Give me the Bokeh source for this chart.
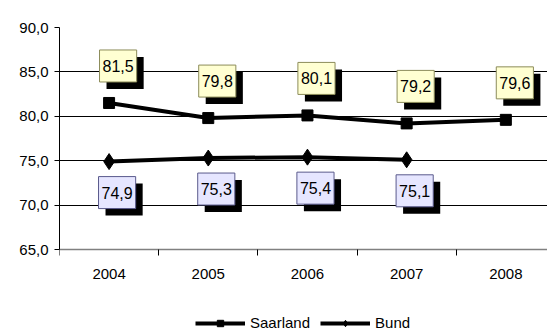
from bokeh.plotting import figure
from bokeh.models import (Range1d, FixedTicker, CustomJSTickFormatter, Legend, LegendItem,
                          ColumnDataSource, LinearAxis, Grid)
from bokeh.core.properties import value
from bokeh.embed import file_html
from bokeh.resources import INLINE

years = ["2004", "2005", "2006", "2007", "2008"]
saarland = [81.5, 79.8, 80.1, 79.2, 79.6]
bund = [74.9, 75.3, 75.4, 75.1]
y_ticks = [65, 70, 75, 80, 85, 90]

FONT = "Liberation Sans"

def fmt(v):
    return f"{v:.1f}".replace(".", ",")

# layout: value axis 65..90 spans 222 px; frame extended below so the legend sits inside it
W, H = 547, 331
TOP, LEFT = 27, 59
AXIS_PX = 222
px_per_unit = AXIS_PX / (y_ticks[-1] - y_ticks[0])
frame_h = H - TOP
y_lo = y_ticks[-1] - frame_h / px_per_unit

xs_s = [i + 0.5 for i in range(len(saarland))]
xs_b = [i + 0.5 for i in range(len(bund))]
src_s = ColumnDataSource(dict(x=xs_s, y=saarland, t=[fmt(v) for v in saarland]))
src_b = ColumnDataSource(dict(x=xs_b, y=bund, t=[fmt(v) for v in bund]))

p = figure(width=W, height=H, output_backend="svg", toolbar_location=None,
           x_range=Range1d(0, 4.92), y_range=Range1d(y_lo, y_ticks[-1]),
           min_border_left=LEFT, min_border_top=TOP, min_border_right=0, min_border_bottom=0,
           x_axis_type=None, y_axis_type=None)
p.outline_line_color = None
p.background_fill_color = "white"
p.border_fill_color = "white"

# y axis
yax = LinearAxis(ticker=FixedTicker(ticks=y_ticks), bounds=(y_ticks[0], y_ticks[-1]))
yax.formatter = CustomJSTickFormatter(code="return tick.toFixed(1).replace('.', ',');")
yax.major_tick_out = 5
yax.major_tick_in = 0
yax.minor_tick_out = 0
yax.minor_tick_in = 0
yax.axis_line_color = "black"
yax.major_tick_line_color = "black"
yax.major_label_text_font = FONT
yax.major_label_text_font_size = "15px"
yax.major_label_text_color = "black"
yax.major_label_standoff = 6
p.add_layout(yax, "left")

# x axis fixed at the bottom of the value scale
xax = LinearAxis(ticker=FixedTicker(ticks=xs_s, minor_ticks=list(range(len(years)))),
                 fixed_location=y_ticks[0])
xax.formatter = CustomJSTickFormatter(args=dict(years=years),
                                      code="return years[Math.floor(tick)];")
xax.major_tick_out = 0
xax.major_tick_in = 0
xax.minor_tick_out = 6
xax.minor_tick_in = 0
xax.minor_tick_line_color = "black"
xax.axis_line_color = "#808080"
xax.axis_line_width = 1.5
xax.major_label_text_font = FONT
xax.major_label_text_font_size = "15px"
xax.major_label_text_color = "black"
xax.major_label_standoff = 13
p.add_layout(xax, "below")

p.grid.visible = False
p.add_layout(Grid(dimension=1, ticker=FixedTicker(ticks=y_ticks[1:]), grid_line_color="black"))

# lines
ls = p.line("x", "y", source=src_s, line_color="black", line_width=4)
ms = p.scatter("x", "y", source=src_s, marker="square", size=11, fill_color="black", line_color="black")
lb = p.line("x", "y", source=src_b, line_color="black", line_width=4)
mb = p.scatter("x", "y", source=src_b, marker="diamond", size=16, fill_color="black", line_color="black")

pad = dict(left=3, right=3, top=10, bottom=10)
# shadows
for src, dx, dy in ((src_s, 9, -37), (src_b, 8, 31)):
    p.text("x", "y", text="t", source=src, x_offset=dx + 7, y_offset=dy + 7,
           text_align="center", text_baseline="middle", text_font=value(FONT),
           text_font_size="16px", text_alpha=0, background_fill_color="black",
           padding=pad)
# boxes
p.text("x", "y", text="t", source=src_s, x_offset=9, y_offset=-37,
       text_align="center", text_baseline="middle", text_font=value(FONT),
       text_font_size="16px", text_color="black", background_fill_color="#FFFFD2",
       border_line_color="#8C8C5A", border_line_width=1, padding=pad)
p.text("x", "y", text="t", source=src_b, x_offset=8, y_offset=31,
       text_align="center", text_baseline="middle", text_font=value(FONT),
       text_font_size="16px", text_color="black", background_fill_color="#E6E6FF",
       border_line_color="#5A5A8C", border_line_width=1, padding=pad)

legend = Legend(items=[LegendItem(label="Saarland", renderers=[ls, ms]),
                       LegendItem(label="Bund", renderers=[lb, mb])],
                location=(136, 0), orientation="horizontal",
                glyph_width=50, glyph_height=16, label_height=16, label_standoff=5,
                spacing=10, padding=0, margin=0,
                border_line_color=None, background_fill_alpha=0,
                label_text_font=FONT, label_text_font_size="15px", label_text_color="black")
p.add_layout(legend, "center")

open("out.html", "w").write(file_html(p, INLINE))
